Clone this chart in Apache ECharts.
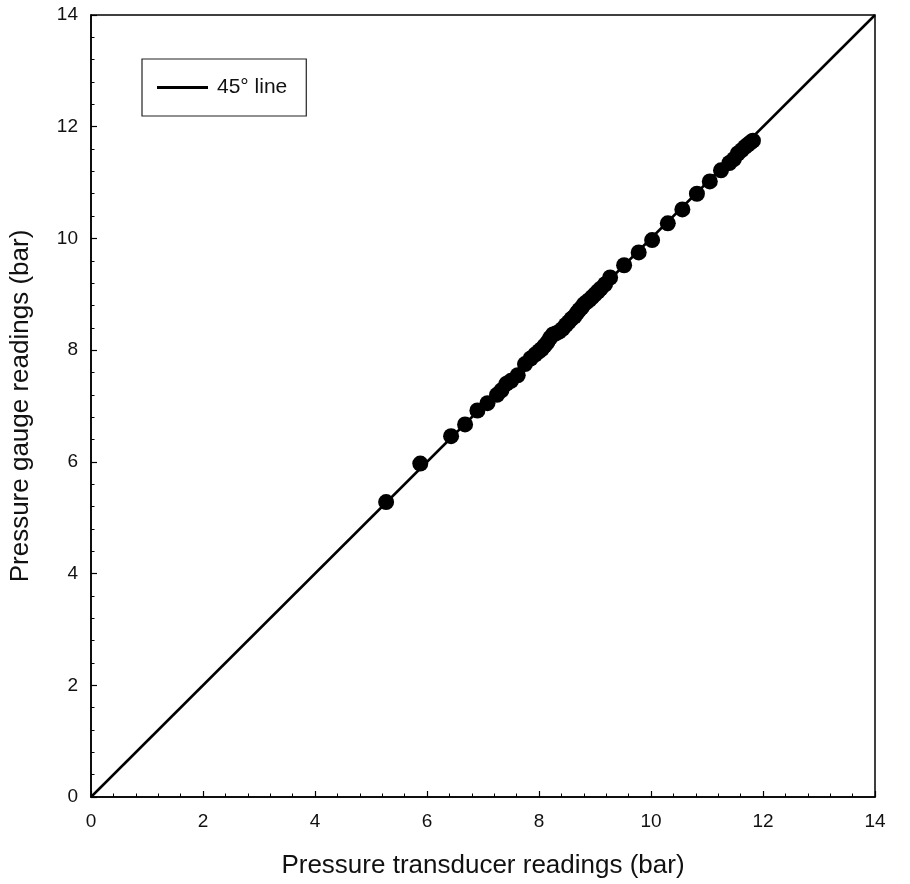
<!DOCTYPE html>
<html>
<head>
<meta charset="utf-8">
<script src="https://cdn.jsdelivr.net/npm/echarts@6/dist/echarts.min.js"></script>
<style>
html,body{margin:0;padding:0;background:#fff;}
#chart{width:910px;height:884px;}
</style>
</head>
<body>
<div id="chart"></div>
<script>
// Pressure transducer readings (bar)
var transducer = [5.27,5.88,6.43,6.68,6.90,7.08,7.25,7.33,7.42,7.50,7.62,7.75,7.85,7.93,8.00,8.05,8.10,8.15,8.20,8.25,8.30,8.36,8.42,8.48,8.53,8.58,8.63,8.68,8.72,8.76,8.80,8.85,8.90,8.95,9.00,9.05,9.10,9.18,9.27,9.52,9.78,10.02,10.30,10.56,10.82,11.05,11.25,11.40,11.48,11.55,11.62,11.68,11.73,11.78,11.82];
// Pressure gauge readings (bar)
var gauge = [5.28,5.97,6.46,6.67,6.92,7.05,7.20,7.28,7.40,7.45,7.55,7.75,7.85,7.92,7.98,8.02,8.08,8.14,8.22,8.28,8.30,8.33,8.38,8.45,8.50,8.56,8.60,8.67,8.72,8.76,8.82,8.86,8.90,8.95,9.00,9.05,9.10,9.18,9.30,9.52,9.75,9.97,10.27,10.52,10.80,11.02,11.22,11.35,11.42,11.52,11.58,11.64,11.68,11.72,11.75];
// 45 degree reference line end points
var lineEnds = [0, 14];
var lineName = '45\u00B0 line';

var points = transducer.map(function (x, i) { return [x, gauge[i]]; });
var diag = lineEnds.map(function (v) { return [v, v]; });

var font = 'Liberation Sans, Arial, sans-serif';
var chart = echarts.init(document.getElementById('chart'));
var axisCommon = {
  type: 'value', min: 0, max: 14, interval: 2,
  axisLine: { show: true, onZero: false, lineStyle: { color: '#000', width: 1.5 } },
  axisTick: { show: true, inside: true, length: 6, lineStyle: { color: '#000', width: 1.2 } },
  minorTick: { show: true, splitNumber: 5, length: 3.5, lineStyle: { color: '#000', width: 1 } },
  splitLine: { show: false },
  axisLabel: { color: '#111', fontSize: 19, fontFamily: font, margin: 8 },
  nameLocation: 'middle',
  nameTextStyle: { color: '#111', fontSize: 26, fontFamily: font }
};
chart.setOption({
  animation: false,
  backgroundColor: '#fff',
  grid: { left: 91, right: 35, top: 15, bottom: 87, containLabel: false, outerBoundsMode: 'none',
          show: true, borderColor: '#000', borderWidth: 1.5, backgroundColor: 'transparent' },
  legend: {
    data: [{ name: lineName, icon: 'rect' }],
    left: 142, top: 59,
    itemWidth: 51, itemHeight: 3,
    padding: [18, 19, 18, 15],
    borderColor: '#222', borderWidth: 1.2,
    textStyle: { color: '#111', fontSize: 21, fontFamily: font, padding: [0, 0, 0, 4] }
  },
  xAxis: Object.assign({}, axisCommon, {
    name: 'Pressure transducer readings (bar)', nameGap: 56,
    axisLabel: Object.assign({}, axisCommon.axisLabel, { margin: 15 })
  }),
  yAxis: Object.assign({}, axisCommon, {
    name: 'Pressure gauge readings (bar)', nameGap: 57,
    axisLabel: Object.assign({}, axisCommon.axisLabel, { margin: 13 })
  }),
  series: [
    {
      name: lineName, type: 'line', data: diag, symbol: 'none',
      lineStyle: { color: '#000', width: 2.5 }, itemStyle: { color: '#000' }, z: 2
    },
    {
      name: 'data', type: 'scatter', data: points, symbol: 'circle', symbolSize: 16,
      itemStyle: { color: '#000', opacity: 1 }, z: 3
    }
  ]
});
</script>
</body>
</html>
